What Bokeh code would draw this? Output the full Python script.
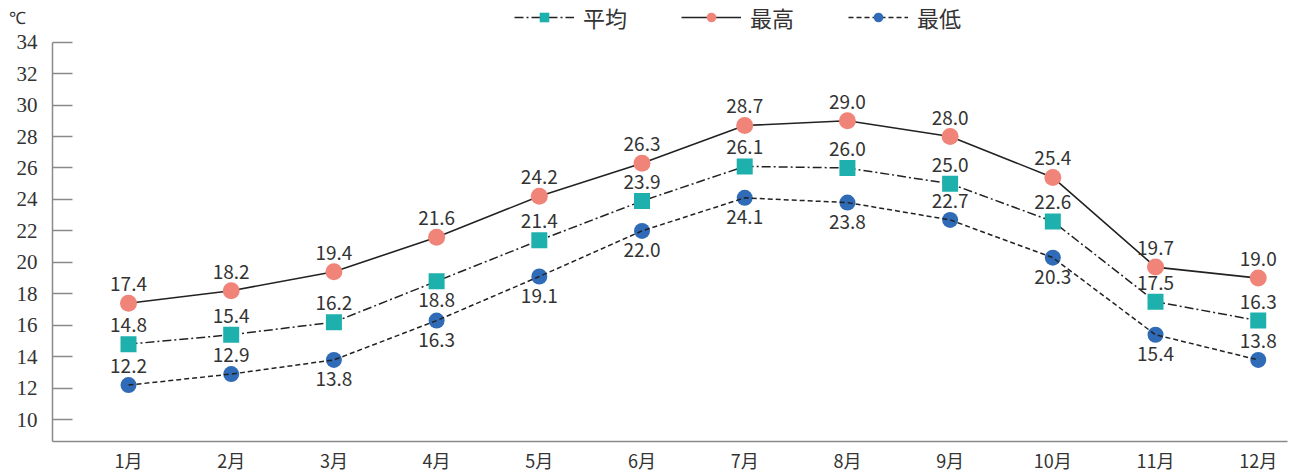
from bokeh.plotting import figure
from bokeh.models import (Range1d, FixedTicker, Legend, LegendItem,
                          ColumnDataSource, LinearAxis)
from bokeh.core.properties import value
from bokeh.embed import file_html
from bokeh.resources import INLINE

# Monthly temperatures (℃)
months = ["1月", "2月", "3月", "4月", "5月", "6月",
          "7月", "8月", "9月", "10月", "11月", "12月"]
avg_temp = [14.8, 15.4, 16.2, 18.8, 21.4, 23.9, 26.1, 26.0, 25.0, 22.6, 17.5, 16.3]
max_temp = [17.4, 18.2, 19.4, 21.6, 24.2, 26.3, 28.7, 29.0, 28.0, 25.4, 19.7, 19.0]
min_temp = [12.2, 12.9, 13.8, 16.3, 19.1, 22.0, 24.1, 23.8, 22.7, 20.3, 15.4, 13.8]
y_ticks = list(range(10, 35, 2))
unit_label = "℃"

# which side of each point its value label sits on: 1 above, -1 below
avg_side = [1, 1, 1, -1, 1, 1, 1, 1, 1, 1, 1, 1]
max_side = [1] * 12
min_side = [1, 1, -1, -1, -1, -1, -1, -1, 1, -1, -1, 1]

x_idx = list(range(1, len(months) + 1))

RED = "#f08478"
TEAL = "#1db0ad"
BLUE = "#2f6bb6"
LABEL_FONT = value("Noto Sans CJK JP")

Y_LOW, Y_TOP = 8.614, 34
Y_CANVAS_TOP = 36.645      # headroom above the axis for the legend row


def make_source(vals, side):
    return ColumnDataSource(dict(
        x=x_idx, y=vals,
        txt=[f"{v:.1f}" for v in vals],
        dy=[-19 if s > 0 else 19 for s in side],
    ))


src_avg = make_source(avg_temp, avg_side)
src_max = make_source(max_temp, max_side)
src_min = make_source(min_temp, min_side)

p = figure(width=1293, height=475, output_backend="svg", toolbar_location=None,
           x_range=Range1d(0.26, 12.285), y_range=Range1d(Y_LOW, Y_CANVAS_TOP),
           min_border_left=52, min_border_right=6, min_border_top=0,
           min_border_bottom=30)
p.outline_line_color = None
p.xgrid.visible = False
p.ygrid.visible = False
p.background_fill_color = "white"
p.border_fill_color = "white"

# series lines and markers
l_max = p.line("x", "y", source=src_max, line_color="#222222", line_width=1.6)
m_max = p.scatter("x", "y", source=src_max, marker="circle", size=17,
                  fill_color=RED, line_color=None)

l_avg = p.line("x", "y", source=src_avg, line_color="#222222", line_width=1.5,
               line_dash="9 3 2 3")
m_avg = p.scatter("x", "y", source=src_avg, marker="square", size=16,
                  fill_color=TEAL, line_color=None)

m_min = p.scatter("x", "y", source=src_min, marker="circle", size=16,
                  fill_color=BLUE, line_color=None)
l_min = p.line("x", "y", source=src_min, line_color="#222222", line_width=1.5,
               line_dash="5 3")

# value labels
for src in (src_max, src_avg, src_min):
    p.text("x", "y", text="txt", source=src, y_offset="dy",
           text_align="center", text_baseline="middle",
           text_font=LABEL_FONT, text_font_size="19px", text_color="#333333")

# axes
yax = p.yaxis[0]
yax.ticker = FixedTicker(ticks=y_ticks)
yax.bounds = (Y_LOW, Y_TOP)
yax.minor_tick_line_color = None
yax.major_tick_in = 20
yax.major_tick_out = 0
yax.axis_line_color = "#8a8a8a"
yax.axis_line_width = 1.5
yax.major_tick_line_color = "#8a8a8a"
yax.major_tick_line_width = 1.5
yax.major_label_text_font = "Liberation Serif"
yax.major_label_text_font_size = "21px"
yax.major_label_text_color = "#333333"
yax.major_label_standoff = 15

# unit shown above the tick labels
unit_pos = 35.5
unit_ax = LinearAxis(ticker=FixedTicker(ticks=[unit_pos]),
                     major_label_overrides={unit_pos: unit_label},
                     axis_line_color=None, major_tick_line_color=None,
                     minor_tick_line_color=None, major_tick_in=0,
                     major_tick_out=0, major_label_standoff=-12,
                     major_label_text_font="Liberation Serif",
                     major_label_text_font_size="17px",
                     major_label_text_color="#333333")
p.add_layout(unit_ax, "left")

xax = p.xaxis[0]
xax.ticker = FixedTicker(ticks=x_idx)
xax.major_label_overrides = {i: m for i, m in zip(x_idx, months)}
xax.minor_tick_line_color = None
xax.major_tick_line_color = None
xax.major_tick_in = 0
xax.major_tick_out = 0
xax.axis_line_color = "#8a8a8a"
xax.axis_line_width = 1.5
xax.major_label_text_font = "Noto Sans CJK JP"
xax.major_label_text_font_size = "18px"
xax.major_label_text_color = "#333333"
xax.major_label_standoff = 5

legend = Legend(items=[
    LegendItem(label="平均", renderers=[l_avg, m_avg]),
    LegendItem(label="最高", renderers=[l_max, m_max]),
    LegendItem(label="最低", renderers=[l_min, m_min]),
], orientation="horizontal", location=(462, 408), glyph_width=60,
    glyph_height=24, label_height=24, label_standoff=9, spacing=54,
    padding=0, margin=0, border_line_color=None, background_fill_alpha=0,
    label_text_font="Noto Sans CJK JP", label_text_font_size="22px",
    label_text_color="#333333")
p.add_layout(legend)

open("out.html", "w").write(file_html(p, INLINE))
